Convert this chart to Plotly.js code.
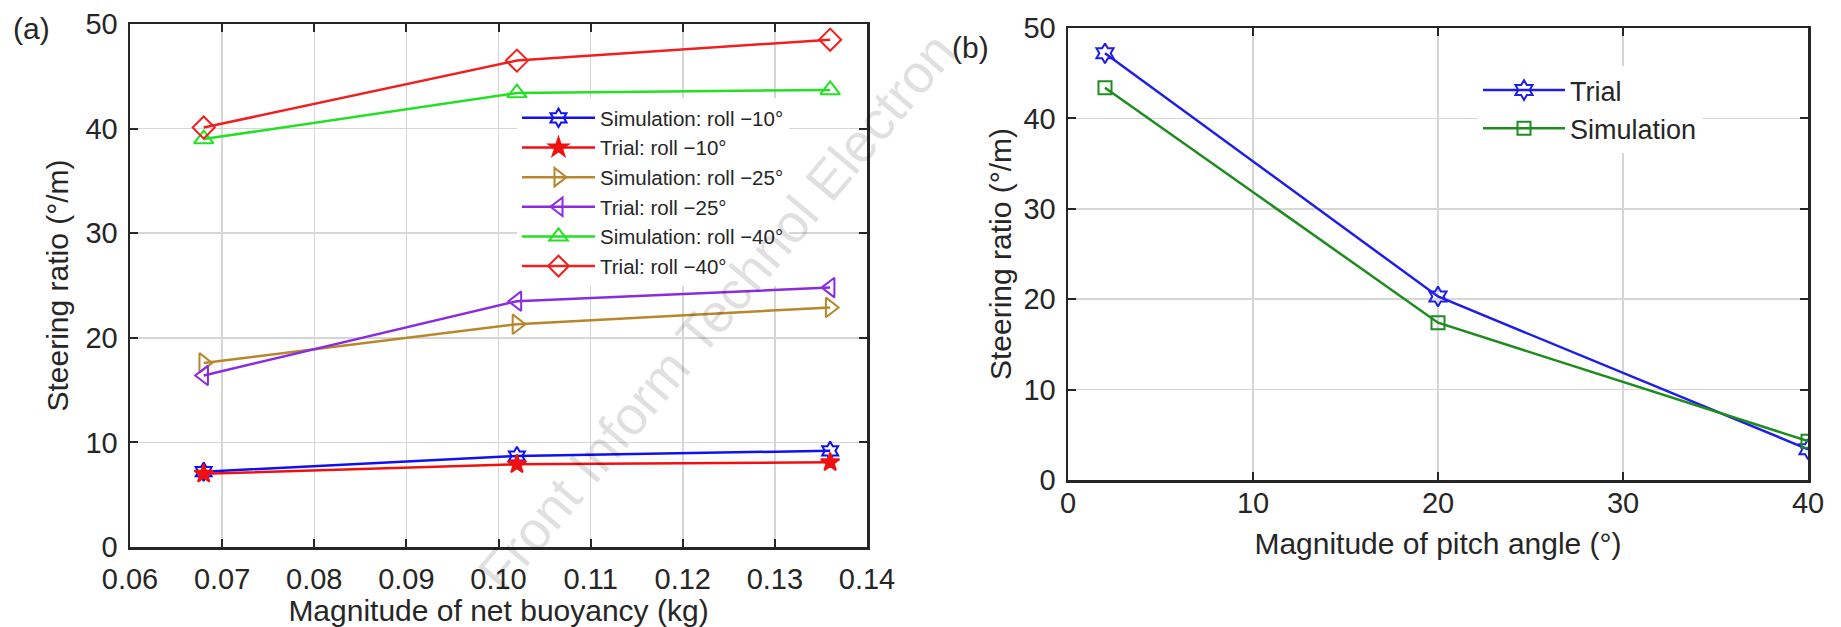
<!DOCTYPE html>
<html>
<head>
<meta charset="utf-8">
<script src="https://cdn.plot.ly/plotly-3.0.1.min.js"></script>
<style>
html,body{margin:0;padding:0;background:#fff;}
#chart{width:1841px;height:627px;}
</style>
</head>
<body>
<div id="chart"></div>
<script>
// ---- Data: panel (a) ----
const buoyancy = [0.068, 0.102, 0.136];
const simRoll10 = [7.2, 8.7, 9.2];
const trialRoll10 = [7.0, 7.9, 8.1];
const simRoll25 = [17.6, 21.3, 22.9];
const trialRoll25 = [16.4, 23.5, 24.8];
const simRoll40 = [39.0, 43.4, 43.7];
const trialRoll40 = [40.1, 46.5, 48.5];
const seriesNamesA = ["Simulation: roll \u221210\u00b0", "Trial: roll \u221210\u00b0", "Simulation: roll \u221225\u00b0", "Trial: roll \u221225\u00b0", "Simulation: roll \u221240\u00b0", "Trial: roll \u221240\u00b0"];
const xTicksA = [0.06, 0.07, 0.08, 0.09, 0.10, 0.11, 0.12, 0.13, 0.14];

// ---- Data: panel (b) ----
const pitch = [2, 20, 40];
const trialPitch = [47.2, 20.3, 3.4];
const simPitch = [43.4, 17.4, 4.3];
const seriesNamesB = ["Trial", "Simulation"];
const xTicksB = [0, 10, 20, 30, 40];
const yTicks = [0, 10, 20, 30, 40, 50];

const FONT = "Liberation Sans, Arial, Helvetica, sans-serif";
const TXT = "#262626";

function tr(x, y, name, color, symbol, size, xa, ya, legend) {
  return {
    x: x, y: y, name: name, type: "scatter", mode: "lines+markers",
    xaxis: xa, yaxis: ya, legend: legend,
    line: {color: color, width: 2.5},
    marker: {symbol: symbol, size: size, color: color, line: {color: color, width: 2}}
  };
}

const data = [
  tr(buoyancy, simRoll10, seriesNamesA[0], "#1010f0", "hexagram-open", 14, "x", "y", "legend"),
  tr(buoyancy, trialRoll10, seriesNamesA[1], "#f01010", "star", 14, "x", "y", "legend"),
  tr(buoyancy, simRoll25, seriesNamesA[2], "#b8862b", "triangle-right-open", 17, "x", "y", "legend"),
  tr(buoyancy, trialRoll25, seriesNamesA[3], "#8a2be2", "triangle-left-open", 17, "x", "y", "legend"),
  tr(buoyancy, simRoll40, seriesNamesA[4], "#22e022", "triangle-up-open", 17, "x", "y", "legend"),
  tr(buoyancy, trialRoll40, seriesNamesA[5], "#f02020", "diamond-open", 17, "x", "y", "legend"),
  tr(pitch, trialPitch, seriesNamesB[0], "#1e1ee6", "hexagram-open", 15, "x2", "y2", "legend2"),
  tr(pitch, simPitch, seriesNamesB[1], "#1e8c1e", "square-open", 13, "x2", "y2", "legend2")
];

function axis(extra) {
  return Object.assign({
    showline: true, linecolor: TXT, linewidth: 2.5, mirror: "ticks",
    ticks: "inside", ticklen: 8, tickwidth: 2, tickcolor: TXT,
    showgrid: true, gridcolor: "#d6d6d6", gridwidth: 1.5,
    zeroline: false, automargin: false,
    tickfont: {family: FONT, size: 29, color: TXT}
  }, extra);
}

const W = 1841, H = 627;
const layout = {
  width: W, height: H,
  margin: {l: 0, r: 0, t: 0, b: 0},
  paper_bgcolor: "#fff", plot_bgcolor: "#fff",
  font: {family: FONT, color: TXT},
  showlegend: true,
  xaxis: axis({domain: [130 / W, 867 / W], anchor: "y", range: [0.06, 0.14], tickvals: xTicksA, tickformat: ".2f",
    ticklabelstandoff: 5,
    title: {text: "Magnitude of net buoyancy (kg)", font: {family: FONT, size: 30, color: TXT}, standoff: 6}}),
  yaxis: axis({domain: [1 - 547 / H, 1 - 24 / H], anchor: "x", range: [0, 50], tickvals: yTicks,
    ticklabelstandoff: 4,
    title: {text: "Steering ratio (\u00b0/m)", font: {family: FONT, size: 30, color: TXT}, standoff: 8}}),
  xaxis2: axis({domain: [1068 / W, 1808 / W], anchor: "y2", range: [0, 40], tickvals: xTicksB,
    ticklabelstandoff: -4,
    title: {text: "Magnitude of pitch angle (\u00b0)", font: {family: FONT, size: 30, color: TXT}, standoff: 15}}),
  yaxis2: axis({domain: [1 - 480 / H, 1 - 28 / H], anchor: "x2", range: [0, 50], tickvals: yTicks,
    ticklabelstandoff: 4,
    title: {text: "Steering ratio (\u00b0/m)", font: {family: FONT, size: 30, color: TXT}, standoff: 3}}),
  legend: {x: 517 / W, y: 1 - 98 / H, xanchor: "left", yanchor: "top", bgcolor: "#fff", borderwidth: 0,
    itemwidth: 73, font: {family: FONT, size: 20.5, color: TXT}, tracegroupgap: 0},
  legend2: {x: 1478 / W, y: 1 - 66 / H, xanchor: "left", yanchor: "top", bgcolor: "#fff", borderwidth: 0,
    itemwidth: 82, font: {family: FONT, size: 27, color: TXT}, tracegroupgap: 0},
  annotations: [
    {text: "(a)", xref: "paper", yref: "paper", x: 32 / W, y: 1 - 28 / H, xanchor: "center", yanchor: "middle", showarrow: false,
      font: {family: FONT, size: 30, color: TXT}},
    {text: "(b)", xref: "paper", yref: "paper", x: 970 / W, y: 1 - 47 / H, xanchor: "center", yanchor: "middle", showarrow: false,
      font: {family: FONT, size: 30, color: TXT}},
    {text: "Front Inform Technol Electron", xref: "paper", yref: "paper", x: 716 / W, y: 1 - 312 / H, xanchor: "center", yanchor: "middle",
      showarrow: false, textangle: -50, font: {family: FONT, size: 54, color: "rgba(0,0,0,0.12)"}}
  ]
};

Plotly.newPlot("chart", data, layout, {staticPlot: true, displayModeBar: false});
</script>
</body>
</html>
